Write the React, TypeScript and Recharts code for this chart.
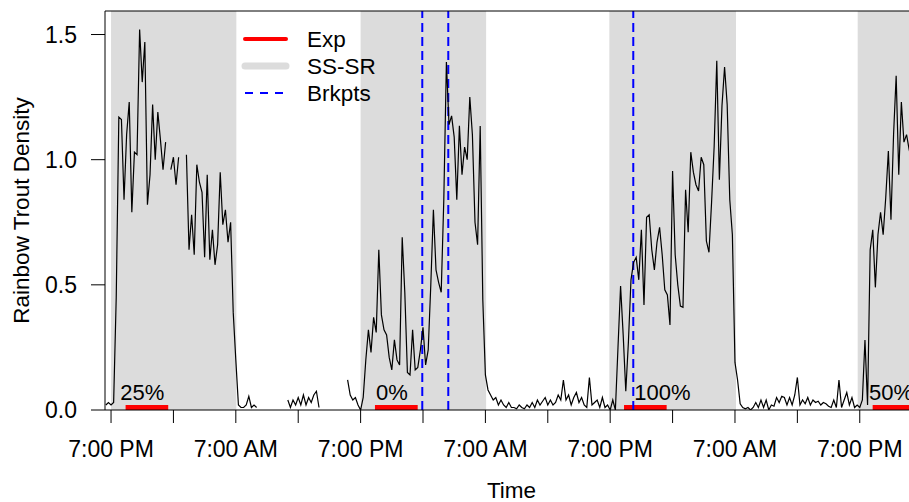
import {
  ComposedChart,
  Legend,
  Line,
  ReferenceArea,
  ReferenceDot,
  ReferenceLine,
  XAxis,
  YAxis,
} from "recharts";

const FONT = '"Liberation Sans", Arial, Helvetica, sans-serif';
const INK = "#000000";
const SHADE = "#dcdcdc";
const EXP_RED = "#ff0000";
const BRK_BLUE = "#0000ff";

// hours since 7:00 PM on the first night, one sample every 15 min
const SAMPLE_START = -0.5;
const SAMPLE_STEP = 0.25;

const NIGHT_1 = [
  0.02, 0.03, 0.02, 0.03, 0.45, 1.17, 1.16, 0.84, 1.1, 1.23,
  0.79, 1.03, 1.02, 1.52, 1.31, 1.47, 0.82, 0.94, 1.22, 1.0,
  1.19, 1.08, 0.96, 1.07, null, 0.96, 1.01, 0.9, 1.01, null,
  null, 1.02, 0.64, 0.78, 0.62, 0.98, 0.91, 0.87, 0.61, 0.94,
  0.6, 0.72, 0.58, 0.66, 0.95, 0.74, 0.8, 0.67, 0.75, 0.39,
  0.2, 0.02,
];
const DAY_1 = [
  0.01, 0.01, 0.02, 0.055, 0.01, 0.02, 0.01,
  null, null, null, null, null, null, null, null, null, null, null,
  0.04, 0.01, 0.04, 0.02, 0.05, 0.02, 0.06, 0.02, 0.05, 0.03, 0.06, 0.075, 0.01,
  null, null, null, null, null, null, null, null, null, null,
  0.12, 0.06, 0.04, 0.05, 0.02,
];
const NIGHT_2 = [
  0.0, 0.05, 0.2, 0.32, 0.23, 0.37, 0.31, 0.64, 0.38, 0.32,
  0.3, 0.21, 0.16, 0.28, 0.2, 0.18, 0.69, 0.47, 0.15, 0.14,
  0.32, 0.16, 0.17, 0.24, 0.33, 0.18, 0.24, 0.5, 0.8, 0.56,
  0.51, 0.47, 0.84, 1.39, 1.14, 1.175, 1.09, 0.84, 1.135, 0.94,
  1.05, 1.0, 1.25, 1.1, 0.75, 0.66, 1.135, 0.44, 0.14,
];
const DAY_2 = [
  0.08, 0.06, 0.04, 0.05, 0.02, 0.04, 0.02, 0.01, 0.03, 0.01,
  0.01, 0.005, 0.02, 0.01, 0.005, 0.02, 0.01, 0.03, 0.01, 0.04,
  0.02, 0.035, 0.05, 0.02, 0.04, 0.02, 0.03, 0.06, 0.04, 0.12,
  0.04, 0.06, 0.02, 0.05, 0.07, 0.03, 0.05, 0.02, 0.01, 0.13,
  0.02, 0.03, 0.04, 0.01, 0.05, 0.01, 0.02,
];
const NIGHT_3 = [
  0.0, 0.04, 0.0, 0.25, 0.495, 0.3, 0.075, 0.27, 0.52, 0.59,
  0.61, 0.52, 0.72, 0.42, 0.77, 0.78, 0.64, 0.56, 0.67, 0.73,
  0.62, 0.48, 0.46, 0.34, 0.955, 0.62, 0.5, 0.415, 0.41, 0.88,
  0.71, 1.03, 0.95, 0.9, 0.875, 1.01, 0.98, 0.675, 0.63, 0.83,
  1.055, 1.395, 0.92, 1.215, 1.37, 1.22, 0.84, 0.7, 0.19, 0.12,
];
const DAY_3 = [
  0.025, 0.01, 0.005, 0.01, 0.0, 0.01, 0.03, 0.01, 0.04, 0.01,
  0.04, 0.0, 0.02, 0.015, 0.05, 0.03, 0.055, 0.05, 0.02, 0.05,
  0.02, 0.06, 0.13, 0.02, 0.04, 0.025, 0.05, 0.02, 0.04, 0.03,
  0.035, 0.02, 0.03, 0.025, 0.015, 0.01, 0.04, 0.01, 0.12, 0.01,
  0.04, 0.07, 0.02, 0.05, 0.01, 0.02, 0.01,
];
const NIGHT_4 = [
  0.04, 0.28, 0.02, 0.64, 0.72, 0.49, 0.7, 0.79, 0.7, 0.85,
  1.035, 0.76, 1.1, 1.335, 0.94, 1.23, 1.07, 1.1, 1.04, 1.0,
];

const X_DOMAIN: [number, number] = [-0.58, 77.6];
const Y_DOMAIN: [number, number] = [0, 1.594];
const X_TICKS = [0, 6, 12, 18, 24, 30, 36, 42, 48, 54, 60, 66, 72];
const X_TICK_LABELS = [
  "7:00 PM", "", "7:00 AM", "", "7:00 PM", "", "7:00 AM",
  "", "7:00 PM", "", "7:00 AM", "", "7:00 PM",
];
const Y_TICKS = [0, 0.5, 1, 1.5];

// sunset -> sunrise shading
const SUNSET = [0, 24, 47.92, 71.8];
const SUNRISE = [12.05, 36.07, 60.1, 77.6];

const EXP_START = [1.4, 25.38, 49.33, 73.24];
const EXP_END = [5.5, 29.49, 53.43, 77.34];
const EXP_LABELS = ["25%", "0%", "100%", "50%"];
const EXP_LABEL_AT = [3.0, 27.0, 53.03, 75.0];

const BREAKPOINTS = [29.93, 32.43, 50.22];

const LEGEND = [
  { label: "Exp", color: EXP_RED, width: 4, dash: undefined },
  { label: "SS-SR", color: SHADE, width: 7, dash: undefined },
  { label: "Brkpts", color: BRK_BLUE, width: 2, dash: "8 7" },
];

const density = [...NIGHT_1, ...DAY_1, ...NIGHT_2, ...DAY_2, ...NIGHT_3, ...DAY_3, ...NIGHT_4];
const data = density.map((d, i) => ({ t: SAMPLE_START + i * SAMPLE_STEP, density: d }));

function LegendBox() {
  return (
    <svg width={160} height={90} style={{ display: "block", fontFamily: FONT }}>
      {LEGEND.map((item, i) => {
        const y = 19 + i * 27;
        return (
          <g key={item.label}>
            <line
              x1={12}
              x2={53}
              y1={y}
              y2={y}
              stroke={item.color}
              strokeWidth={item.width}
              strokeDasharray={item.dash}
              strokeLinecap={item.dash ? "butt" : "round"}
            />
            <text x={74} y={y} dominantBaseline="central" fontSize={22.5} fill={INK}>
              {item.label}
            </text>
          </g>
        );
      })}
    </svg>
  );
}

export default function App() {
  return (
    <div
      style={{
        position: "absolute",
        left: 0,
        top: 0,
        width: 909,
        height: 502,
        overflow: "hidden",
        background: "#fff",
      }}
    >
      <ComposedChart
        width={918}
        height={502}
        data={data}
        margin={{ top: 11, right: 0, bottom: 0, left: 0 }}
        style={{ fontFamily: FONT }}
      >
        {SUNSET.map((s, i) => (
          <ReferenceArea key={`n${i}`} x1={s} x2={SUNRISE[i]} fill={SHADE} fillOpacity={1} stroke="none" />
        ))}
        {EXP_START.map((s, i) => (
          <ReferenceArea
            key={`e${i}`}
            x1={s}
            x2={EXP_END[i]}
            y1={0}
            y2={0.02}
            fill={EXP_RED}
            fillOpacity={1}
            stroke="none"
          />
        ))}
        {EXP_LABELS.map((txt, i) => (
          <ReferenceDot
            key={`l${i}`}
            x={EXP_LABEL_AT[i]}
            y={0.071}
            r={0}
            fill="none"
            stroke="none"
            label={{ value: txt, position: "center", fill: INK, fontSize: 22 }}
          />
        ))}
        {BREAKPOINTS.map((b) => (
          <ReferenceLine key={b} x={b} stroke={BRK_BLUE} strokeWidth={2} strokeDasharray="9 5" />
        ))}
        <ReferenceLine y={Y_DOMAIN[1]} stroke={INK} strokeWidth={1} />
        <XAxis
          type="number"
          dataKey="t"
          domain={X_DOMAIN}
          allowDataOverflow
          ticks={X_TICKS}
          interval={0}
          tickFormatter={(v: number) => X_TICK_LABELS[X_TICKS.indexOf(v)] ?? ""}
          height={92}
          tickSize={13}
          tickMargin={18}
          axisLine={{ stroke: INK }}
          tickLine={{ stroke: INK }}
          tick={{ fill: INK, fontSize: 23 }}
          label={{ value: "Time", position: "insideBottom", offset: 4, fill: INK, fontSize: 22.5 }}
        />
        <YAxis
          type="number"
          domain={Y_DOMAIN}
          allowDataOverflow
          ticks={Y_TICKS}
          interval={0}
          tickFormatter={(v: number) => v.toFixed(1)}
          width={105}
          tickSize={14}
          tickMargin={14}
          axisLine={{ stroke: INK }}
          tickLine={{ stroke: INK }}
          tick={{ fill: INK, fontSize: 23 }}
          label={{
            value: "Rainbow Trout Density",
            angle: -90,
            position: "insideLeft",
            offset: 21,
            fill: INK,
            fontSize: 22.5,
            style: { textAnchor: "middle" },
          }}
        />
        <Line
          type="linear"
          dataKey="density"
          stroke={INK}
          strokeWidth={1.2}
          dot={false}
          connectNulls={false}
          isAnimationActive={false}
        />
        <Legend
          layout="vertical"
          align="center"
          verticalAlign="middle"
          content={() => <LegendBox />}
          wrapperStyle={{ left: 233, top: 20, width: 160, height: 90 }}
        />
      </ComposedChart>
    </div>
  );
}
